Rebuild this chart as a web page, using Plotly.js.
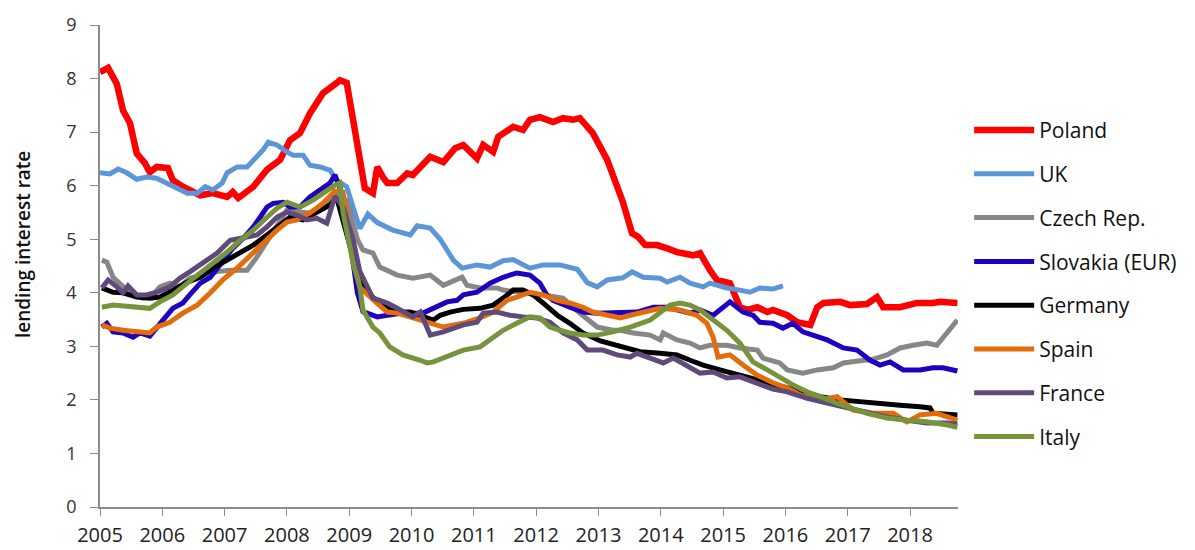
<!DOCTYPE html>
<html>
<head>
<meta charset="utf-8">
<script src="https://cdn.plot.ly/plotly-3.0.1.min.js"></script>
<style>
  html, body { margin: 0; padding: 0; background: #fff; }
  #chart { width: 1195px; height: 550px; }
</style>
</head>
<body>
<div id="chart"></div>
<script>
// time is in decimal years, values in percent
var polandT = [2005.00, 2005.13, 2005.27, 2005.37, 2005.48, 2005.59, 2005.72, 2005.80, 2005.91, 2006.09, 2006.17, 2006.33, 2006.61, 2006.81, 2007.04, 2007.13, 2007.22, 2007.46, 2007.68, 2007.89, 2008.05, 2008.21, 2008.37, 2008.58, 2008.80, 2008.85, 2008.96, 2009.06, 2009.13, 2009.25, 2009.38, 2009.45, 2009.54, 2009.61, 2009.77, 2009.93, 2010.02, 2010.30, 2010.51, 2010.70, 2010.83, 2011.05, 2011.15, 2011.31, 2011.39, 2011.63, 2011.79, 2011.90, 2012.06, 2012.27, 2012.43, 2012.59, 2012.70, 2012.91, 2013.14, 2013.30, 2013.39, 2013.54, 2013.64, 2013.75, 2013.94, 2014.10, 2014.26, 2014.52, 2014.63, 2014.79, 2014.90, 2015.11, 2015.27, 2015.39, 2015.55, 2015.71, 2015.80, 2016.03, 2016.19, 2016.40, 2016.51, 2016.61, 2016.88, 2017.04, 2017.31, 2017.47, 2017.57, 2017.84, 2018.11, 2018.37, 2018.48, 2018.76];
var polandV = [8.12, 8.2, 7.9, 7.4, 7.17, 6.6, 6.42, 6.25, 6.35, 6.33, 6.1, 5.98, 5.82, 5.86, 5.79, 5.88, 5.77, 5.98, 6.3, 6.48, 6.85, 6.98, 7.35, 7.73, 7.92, 7.97, 7.92, 7.28, 6.72, 5.95, 5.86, 6.35, 6.16, 6.05, 6.05, 6.23, 6.2, 6.54, 6.44, 6.7, 6.76, 6.51, 6.76, 6.63, 6.91, 7.1, 7.04, 7.23, 7.28, 7.19, 7.26, 7.23, 7.26, 6.98, 6.48, 5.98, 5.7, 5.11, 5.04, 4.89, 4.89, 4.83, 4.76, 4.7, 4.74, 4.42, 4.24, 4.18, 3.73, 3.68, 3.73, 3.64, 3.68, 3.58, 3.45, 3.4, 3.73, 3.81, 3.83, 3.77, 3.79, 3.92, 3.73, 3.73, 3.81, 3.81, 3.83, 3.81];

var ukT = [2005.00, 2005.16, 2005.29, 2005.43, 2005.59, 2005.75, 2005.91, 2006.12, 2006.40, 2006.56, 2006.69, 2006.81, 2006.96, 2007.04, 2007.20, 2007.36, 2007.52, 2007.62, 2007.70, 2007.84, 2008.00, 2008.10, 2008.26, 2008.37, 2008.53, 2008.69, 2008.80, 2008.96, 2009.06, 2009.17, 2009.30, 2009.45, 2009.70, 2009.98, 2010.09, 2010.30, 2010.46, 2010.67, 2010.81, 2011.05, 2011.26, 2011.47, 2011.63, 2011.90, 2012.11, 2012.38, 2012.66, 2012.82, 2012.98, 2013.14, 2013.39, 2013.54, 2013.72, 2013.99, 2014.10, 2014.31, 2014.47, 2014.68, 2014.79, 2015.06, 2015.27, 2015.43, 2015.59, 2015.80, 2015.96];
var ukV = [6.24, 6.22, 6.31, 6.24, 6.12, 6.16, 6.14, 6.01, 5.86, 5.86, 5.98, 5.92, 6.05, 6.24, 6.35, 6.35, 6.54, 6.67, 6.81, 6.76, 6.63, 6.57, 6.57, 6.38, 6.35, 6.29, 6.1, 5.98, 5.6, 5.2, 5.47, 5.31, 5.17, 5.08, 5.25, 5.21, 5.0, 4.61, 4.46, 4.52, 4.48, 4.6, 4.62, 4.46, 4.52, 4.52, 4.44, 4.19, 4.11, 4.24, 4.28, 4.39, 4.29, 4.27, 4.2, 4.29, 4.18, 4.11, 4.18, 4.09, 4.05, 4.01, 4.09, 4.07, 4.13];

var czechT = [2005.03, 2005.11, 2005.21, 2005.32, 2005.48, 2005.69, 2005.85, 2005.96, 2006.12, 2006.28, 2006.44, 2006.70, 2006.90, 2007.09, 2007.36, 2007.52, 2007.68, 2007.84, 2008.00, 2008.16, 2008.37, 2008.58, 2008.80, 2008.96, 2009.13, 2009.22, 2009.38, 2009.49, 2009.77, 2010.02, 2010.30, 2010.51, 2010.73, 2010.81, 2010.89, 2011.10, 2011.37, 2011.47, 2012.11, 2012.43, 2012.70, 2012.98, 2013.23, 2013.35, 2013.56, 2013.83, 2013.99, 2014.04, 2014.26, 2014.47, 2014.63, 2014.79, 2015.06, 2015.27, 2015.55, 2015.64, 2015.91, 2016.03, 2016.28, 2016.51, 2016.77, 2016.93, 2017.20, 2017.41, 2017.63, 2017.84, 2018.05, 2018.27, 2018.43, 2018.53, 2018.76];
var czechV = [4.61, 4.57, 4.29, 4.18, 4.0, 3.9, 3.96, 4.11, 4.18, 4.11, 4.27, 4.35, 4.4, 4.42, 4.42, 4.67, 4.95, 5.23, 5.54, 5.51, 5.49, 5.6, 5.82, 5.73, 5.0, 4.8, 4.74, 4.48, 4.33, 4.27, 4.33, 4.14, 4.24, 4.29, 4.14, 4.09, 4.09, 4.05, 3.96, 3.9, 3.62, 3.36, 3.3, 3.3, 3.25, 3.21, 3.12, 3.25, 3.12, 3.06, 2.97, 3.02, 3.02, 2.97, 2.93, 2.78, 2.69, 2.56, 2.5, 2.56, 2.6, 2.69, 2.73, 2.76, 2.84, 2.97, 3.02, 3.06, 3.02, 3.17, 3.49];

var slovakiaT = [2005.03, 2005.11, 2005.21, 2005.37, 2005.53, 2005.64, 2005.80, 2005.91, 2006.01, 2006.17, 2006.33, 2006.44, 2006.61, 2006.77, 2006.93, 2007.13, 2007.30, 2007.46, 2007.57, 2007.68, 2007.78, 2007.94, 2008.05, 2008.21, 2008.37, 2008.53, 2008.69, 2008.77, 2008.90, 2009.01, 2009.13, 2009.22, 2009.45, 2009.61, 2009.86, 2010.18, 2010.35, 2010.57, 2010.73, 2010.83, 2011.05, 2011.26, 2011.47, 2011.69, 2011.90, 2012.06, 2012.17, 2012.27, 2012.54, 2012.75, 2012.98, 2013.23, 2013.46, 2013.62, 2013.88, 2014.10, 2014.47, 2014.63, 2014.84, 2015.11, 2015.32, 2015.48, 2015.59, 2015.80, 2015.96, 2016.12, 2016.28, 2016.67, 2016.93, 2017.15, 2017.36, 2017.52, 2017.68, 2017.89, 2018.16, 2018.37, 2018.53, 2018.76];
var slovakiaV = [3.36, 3.43, 3.27, 3.25, 3.17, 3.25, 3.19, 3.36, 3.49, 3.71, 3.81, 3.96, 4.18, 4.29, 4.52, 4.83, 5.02, 5.23, 5.41, 5.6, 5.67, 5.69, 5.6, 5.6, 5.79, 5.92, 6.05, 6.2, 5.8, 5.0, 4.0, 3.65, 3.55, 3.58, 3.62, 3.62, 3.71, 3.83, 3.86, 3.96, 4.01, 4.18, 4.29, 4.37, 4.33, 4.18, 3.96, 3.86, 3.73, 3.64, 3.62, 3.62, 3.64, 3.64, 3.73, 3.73, 3.62, 3.68, 3.58, 3.83, 3.64, 3.58, 3.45, 3.43, 3.34, 3.43, 3.27, 3.12, 2.97, 2.93, 2.74, 2.65, 2.71, 2.56, 2.56, 2.6, 2.6, 2.54];

var germanyT = [2005.03, 2005.21, 2005.37, 2005.59, 2005.80, 2005.96, 2006.17, 2006.40, 2006.61, 2006.81, 2007.04, 2007.25, 2007.46, 2007.68, 2007.89, 2008.05, 2008.26, 2008.48, 2008.69, 2008.80, 2009.06, 2009.29, 2009.49, 2009.77, 2009.98, 2010.35, 2010.46, 2010.62, 2010.83, 2011.10, 2011.31, 2011.47, 2011.63, 2011.79, 2011.95, 2012.11, 2012.34, 2012.54, 2012.75, 2013.03, 2013.23, 2013.46, 2013.67, 2013.99, 2014.26, 2014.47, 2014.68, 2014.95, 2015.27, 2015.59, 2015.91, 2016.24, 2016.56, 2016.88, 2017.20, 2017.52, 2017.84, 2018.16, 2018.32, 2018.37, 2018.76];
var germanyV = [4.09, 4.01, 4.0, 3.92, 3.9, 3.92, 4.05, 4.2, 4.29, 4.46, 4.61, 4.74, 4.89, 5.08, 5.27, 5.41, 5.36, 5.49, 5.64, 5.77, 4.67, 4.0, 3.81, 3.64, 3.64, 3.49, 3.58, 3.64, 3.69, 3.71, 3.77, 3.9, 4.05, 4.05, 3.96, 3.81, 3.58, 3.43, 3.25, 3.1, 3.03, 2.95, 2.9, 2.87, 2.84, 2.74, 2.65, 2.56, 2.46, 2.34, 2.24, 2.15, 2.06, 2.0, 1.96, 1.94, 1.9, 1.87, 1.85, 1.75, 1.72];

var spainT = [2005.03, 2005.16, 2005.37, 2005.59, 2005.80, 2005.91, 2006.12, 2006.33, 2006.56, 2006.77, 2006.97, 2007.20, 2007.41, 2007.62, 2007.84, 2008.00, 2008.16, 2008.37, 2008.58, 2008.77, 2008.90, 2009.01, 2009.17, 2009.45, 2009.61, 2009.77, 2010.02, 2010.30, 2010.51, 2010.83, 2011.10, 2011.31, 2011.53, 2011.69, 2011.90, 2012.11, 2012.34, 2012.54, 2012.75, 2012.91, 2013.14, 2013.35, 2013.51, 2013.67, 2013.99, 2014.31, 2014.58, 2014.74, 2014.84, 2014.92, 2015.11, 2015.32, 2015.55, 2015.80, 2016.03, 2016.24, 2016.56, 2016.83, 2017.09, 2017.41, 2017.73, 2017.95, 2018.16, 2018.43, 2018.60, 2018.76];
var spainV = [3.4, 3.34, 3.3, 3.27, 3.25, 3.36, 3.45, 3.62, 3.77, 4.0, 4.24, 4.46, 4.7, 4.93, 5.17, 5.32, 5.36, 5.49, 5.67, 5.9, 5.88, 5.0, 4.1, 3.8, 3.64, 3.62, 3.53, 3.43, 3.36, 3.43, 3.53, 3.64, 3.86, 3.92, 4.01, 3.96, 3.86, 3.81, 3.73, 3.64, 3.58, 3.53, 3.58, 3.62, 3.71, 3.68, 3.58, 3.43, 3.17, 2.8, 2.84, 2.65, 2.46, 2.32, 2.22, 2.09, 2.0, 2.06, 1.81, 1.75, 1.75, 1.59, 1.72, 1.75, 1.68, 1.62];

var franceT = [2005.03, 2005.13, 2005.27, 2005.37, 2005.45, 2005.59, 2005.75, 2005.91, 2006.12, 2006.28, 2006.44, 2006.65, 2006.88, 2007.09, 2007.30, 2007.52, 2007.68, 2007.84, 2008.00, 2008.16, 2008.32, 2008.48, 2008.64, 2008.77, 2008.90, 2009.06, 2009.17, 2009.38, 2009.49, 2009.61, 2009.77, 2010.02, 2010.14, 2010.30, 2010.51, 2010.83, 2011.05, 2011.15, 2011.37, 2011.58, 2011.79, 2012.01, 2012.22, 2012.43, 2012.66, 2012.82, 2013.07, 2013.30, 2013.51, 2013.62, 2013.83, 2014.04, 2014.20, 2014.42, 2014.63, 2014.84, 2015.06, 2015.27, 2015.55, 2015.80, 2016.03, 2016.35, 2016.67, 2016.99, 2017.31, 2017.63, 2017.95, 2018.27, 2018.60, 2018.76];
var franceV = [4.09, 4.24, 4.11, 4.0, 4.13, 3.96, 3.96, 4.01, 4.11, 4.27, 4.39, 4.55, 4.74, 4.98, 5.04, 5.08, 5.23, 5.41, 5.51, 5.45, 5.36, 5.39, 5.3, 5.8, 5.6, 5.0, 4.4, 3.9, 3.86, 3.81, 3.71, 3.55, 3.64, 3.21, 3.27, 3.4, 3.45, 3.62, 3.64, 3.58, 3.55, 3.53, 3.45, 3.25, 3.12, 2.93, 2.93, 2.84, 2.8, 2.87, 2.78, 2.69, 2.78, 2.65, 2.5, 2.52, 2.41, 2.43, 2.32, 2.2, 2.15, 2.03, 1.94, 1.85, 1.75, 1.68, 1.62, 1.57, 1.57, 1.55];

var italyT = [2005.03, 2005.21, 2005.43, 2005.64, 2005.80, 2005.96, 2006.17, 2006.40, 2006.61, 2006.81, 2007.04, 2007.25, 2007.46, 2007.68, 2007.84, 2008.00, 2008.21, 2008.42, 2008.58, 2008.77, 2008.85, 2008.90, 2009.01, 2009.06, 2009.17, 2009.22, 2009.38, 2009.49, 2009.65, 2009.86, 2010.14, 2010.25, 2010.35, 2010.57, 2010.83, 2011.10, 2011.26, 2011.47, 2011.69, 2011.90, 2012.06, 2012.22, 2012.38, 2012.54, 2012.75, 2012.98, 2013.23, 2013.51, 2013.83, 2013.99, 2014.15, 2014.31, 2014.47, 2014.63, 2014.84, 2015.06, 2015.27, 2015.48, 2015.71, 2015.91, 2016.12, 2016.35, 2016.67, 2016.99, 2017.31, 2017.63, 2017.95, 2018.27, 2018.60, 2018.76];
var italyV = [3.73, 3.77, 3.75, 3.73, 3.71, 3.83, 3.96, 4.18, 4.37, 4.55, 4.76, 4.98, 5.17, 5.41, 5.58, 5.69, 5.6, 5.73, 5.86, 6.01, 6.05, 5.49, 4.86, 4.55, 4.11, 3.68, 3.36, 3.25, 2.99, 2.84, 2.74, 2.69, 2.71, 2.8, 2.93, 2.99, 3.12, 3.3, 3.43, 3.55, 3.53, 3.36, 3.3, 3.25, 3.21, 3.21, 3.27, 3.36, 3.49, 3.62, 3.77, 3.81, 3.77, 3.68, 3.49, 3.3, 3.06, 2.71, 2.56, 2.41, 2.28, 2.15, 2.0, 1.87, 1.75, 1.66, 1.62, 1.59, 1.53, 1.49];

var yearTicks = [2005, 2006, 2007, 2008, 2009, 2010, 2011, 2012, 2013, 2014, 2015, 2016, 2017, 2018];

var seriesList = [
    {name: 'Poland', t: polandT, v: polandV, color: '#ff0000', width: 6.5},
    {name: 'UK', t: ukT, v: ukV, color: '#5b96d8', width: 5},
    {name: 'Czech Rep.', t: czechT, v: czechV, color: '#878787', width: 5},
    {name: 'Slovakia (EUR)', t: slovakiaT, v: slovakiaV, color: '#2000c0', width: 5},
    {name: 'Germany', t: germanyT, v: germanyV, color: '#000000', width: 5},
    {name: 'Spain', t: spainT, v: spainV, color: '#e46c0a', width: 5},
    {name: 'France', t: franceT, v: franceV, color: '#604a7b', width: 5},
    {name: 'Italy', t: italyT, v: italyV, color: '#77933c', width: 5}
];

var data = seriesList.map(function(s, i) {
    return {
        x: s.t,
        y: s.v,
        name: s.name,
        type: 'scatter',
        mode: 'lines',
        legendgroup: 'g' + i,
        hoverinfo: 'x+y+name',
        line: {color: s.color, width: s.width, shape: 'linear'}
    };
});

var layout = {
    width: 1195,
    height: 550,
    paper_bgcolor: '#ffffff',
    plot_bgcolor: '#ffffff',
    font: {family: '"Open Sans", Lato, sans-serif', color: '#222'},
    margin: {t: 25, b: 43, l: 100, r: 237},
    showlegend: true,
    legend: {
        x: 1.013,
        xanchor: 'left',
        y: 0.824,
        yanchor: 'top',
        tracegroupgap: 13.5,
        itemwidth: 60,
        font: {size: 21, color: '#111'},
        bgcolor: 'rgba(0,0,0,0)'
    },
    // axis title placed by hand: it sits above the plot centre in the original
    annotations: [{
        text: 'lending interest rate',
        textangle: -90,
        xref: 'paper', yref: 'paper',
        x: -0.0897, y: 0.5436,
        xanchor: 'center', yanchor: 'middle',
        showarrow: false,
        font: {size: 19, color: '#111', weight: 600}
    }],
    xaxis: {
        range: [2005, 2018.77],
        tickmode: 'array',
        tickvals: yearTicks,
        ticktext: yearTicks.map(String),
        showgrid: false,
        zeroline: false,
        showline: true,
        linecolor: '#8c8c8c',
        linewidth: 1.5,
        ticks: 'outside',
        ticklen: 7,
        tickcolor: '#8c8c8c',
        ticklabelstandoff: 2,
        tickfont: {size: 20, color: '#222'}
    },
    yaxis: {
        range: [0, 9],
        dtick: 1,
        showgrid: false,
        zeroline: false,
        showline: true,
        linecolor: '#8c8c8c',
        linewidth: 1.5,
        ticks: 'outside',
        ticklen: 8,
        tickcolor: '#8c8c8c',
        ticklabelstandoff: 10,
        tickfont: {size: 18, color: '#333'}
    }
};

Plotly.newPlot('chart', data, layout, {displayModeBar: false});
</script>
</body>
</html>
